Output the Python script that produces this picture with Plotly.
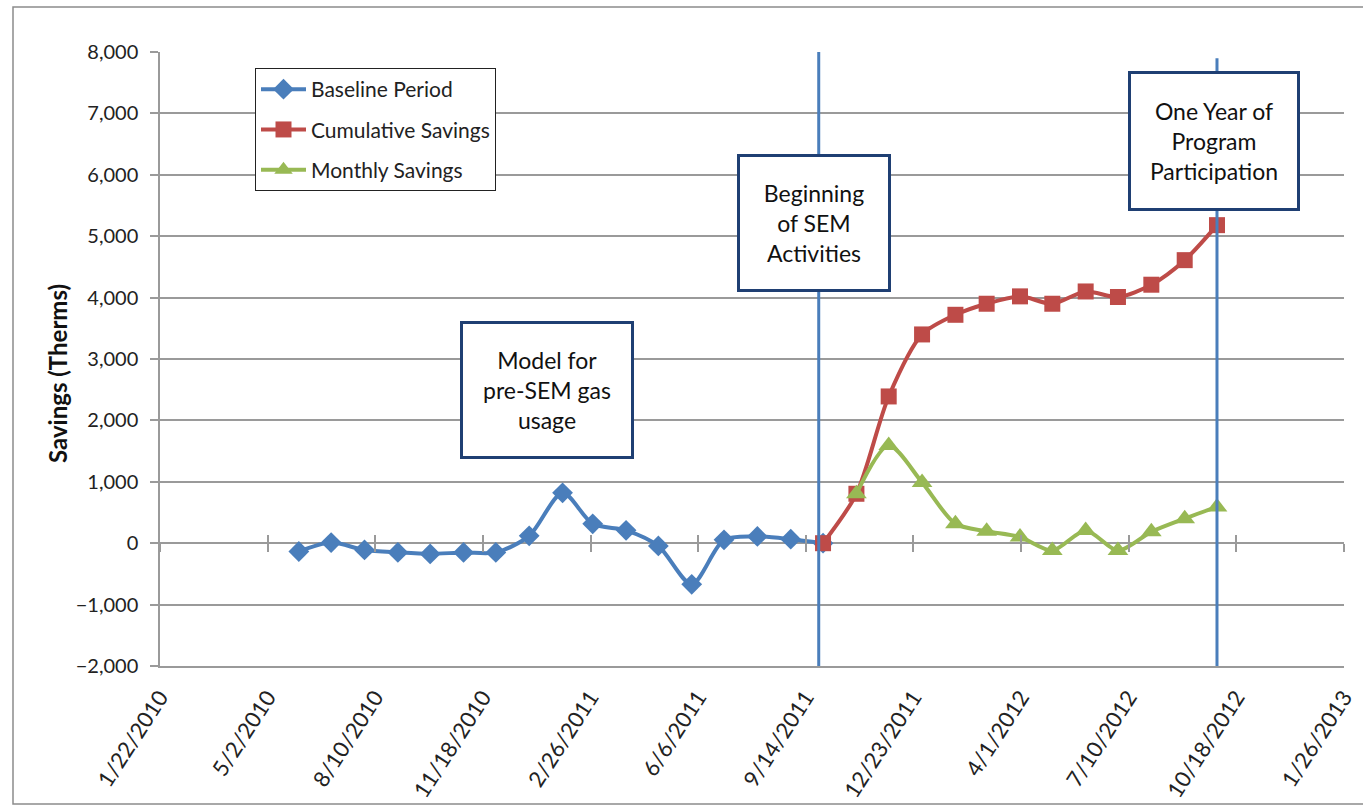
import plotly.graph_objects as go

# ---------------- data ----------------
baseline_dates = ["2010-05-31", "2010-06-30", "2010-07-31", "2010-08-31", "2010-09-30",
                  "2010-10-31", "2010-11-30", "2010-12-31", "2011-01-31", "2011-02-28",
                  "2011-03-31", "2011-04-30", "2011-05-31", "2011-06-30", "2011-07-31",
                  "2011-08-31", "2011-09-30"]
baseline_values = [-135, 10, -110, -150, -175, -150, -150, 120, 820, 315,
                   210, -45, -670, 55, 110, 65, 0]

cum_dates = ["2011-09-30", "2011-10-31", "2011-11-30", "2011-12-31", "2012-01-31",
             "2012-02-29", "2012-03-31", "2012-04-30", "2012-05-31", "2012-06-30",
             "2012-07-31", "2012-08-31", "2012-09-30"]
cum_values = [0, 805, 2390, 3400, 3720, 3900, 4020, 3900, 4100, 4010, 4210, 4610, 5180]

monthly_dates = ["2011-10-31", "2011-11-30", "2011-12-31", "2012-01-31", "2012-02-29",
                 "2012-03-31", "2012-04-30", "2012-05-31", "2012-06-30", "2012-07-31",
                 "2012-08-31", "2012-09-30"]
monthly_values = [805, 1590, 990, 316, 195, 100, -120, 207, -120, 185, 400, 590]

tick_dates = ["2010-01-22", "2010-05-02", "2010-08-10", "2010-11-18", "2011-02-26",
              "2011-06-06", "2011-09-14", "2011-12-23", "2012-04-01", "2012-07-10",
              "2012-10-18", "2013-01-26"]
tick_labels = ["1/22/2010", "5/2/2010", "8/10/2010", "11/18/2010", "2/26/2011",
               "6/6/2011", "9/14/2011", "12/23/2011", "4/1/2012", "7/10/2012",
               "10/18/2012", "1/26/2013"]

y_ticks = [-2000, -1000, 0, 1000, 2000, 3000, 4000, 5000, 6000, 7000, 8000]

event_dates = ["2011-09-26", "2012-09-30"]
event_tops = [8000, 7900]

box_texts = ["Model for<br>pre-SEM gas<br>usage",
             "Beginning<br>of SEM<br>Activities",
             "One Year of<br>Program<br>Participation"]
box_x = ["2011-01-17", "2011-09-22", "2012-09-27"]
box_y = [2500, 5210, 6550]
box_w = [171, 151, 169]
box_h = [135, 135, 137]

y_title = "Savings (Therms)"

# ---------------- style ----------------
FONT = "Lato, 'Open Sans', sans-serif"
BLUE = "#4A7EBB"
RED = "#BE4B48"
GREEN = "#98B954"
GRID = "#9A9A9A"
NAVY = "#1F3F73"

W, H = 1363, 805
L, R, T, B = 160, 19, 52, 139
PW, PH = W - L - R, H - T - B


def px_x(p):
    return (p - L) / PW


def px_y(p):
    return 1 - (p - T) / PH


fig = go.Figure()

fig.add_trace(go.Scatter(
    x=baseline_dates, y=baseline_values, name="Baseline Period",
    mode="lines+markers", legendgroup="a",
    line=dict(color=BLUE, width=4, shape="spline", smoothing=0.8),
    marker=dict(symbol="diamond", size=16, color=BLUE),
))
fig.add_trace(go.Scatter(
    x=cum_dates, y=cum_values, name="Cumulative Savings",
    mode="lines+markers", legendgroup="b",
    line=dict(color=RED, width=4, shape="spline", smoothing=0.8),
    marker=dict(symbol="square", size=16, color=RED),
))
fig.add_trace(go.Scatter(
    x=monthly_dates, y=monthly_values, name="Monthly Savings",
    mode="lines+markers", legendgroup="c",
    line=dict(color=GREEN, width=4, shape="spline", smoothing=0.8),
    marker=dict(symbol="triangle-up", size=18, color=GREEN),
))

# invisible helpers so the zero-line tick axes are created
for ax in ("x2", "x3"):
    fig.add_trace(go.Scatter(
        x=tick_dates, y=[0] * len(tick_dates), xaxis=ax, yaxis="y",
        mode="markers", marker=dict(opacity=0), showlegend=False, hoverinfo="skip",
    ))

# event lines
for d, top in zip(event_dates, event_tops):
    fig.add_shape(type="line", xref="x", yref="y", x0=d, x1=d, y0=-2000, y1=top,
                  line=dict(color=BLUE, width=3), layer="above")

# annotation boxes
for txt, bx, by, bw, bh in zip(box_texts, box_x, box_y, box_w, box_h):
    fig.add_annotation(
        x=bx, y=by, xref="x", yref="y", text=txt, showarrow=False,
        font=dict(family=FONT, size=23, color="#111111"),
        bgcolor="white", bordercolor=NAVY, borderwidth=3, borderpad=0,
        width=bw - 3, height=bh - 3, align="center", valign="middle",
    )

# y-axis title
fig.add_annotation(
    x=px_x(57), y=px_y(374), xref="paper", yref="paper", text="<b>" + y_title + "</b>",
    textangle=-90, showarrow=False, xanchor="center", yanchor="middle",
    font=dict(family=FONT, size=24, color="#111111"),
)

# outer border
fig.add_shape(type="rect", xref="paper", yref="paper",
              x0=px_x(13), x1=px_x(1375), y0=px_y(804), y1=px_y(7),
              line=dict(color="#8C8C8C", width=1.5), layer="below")

xrange = ["2010-01-22", "2013-01-26"]
zero_pos = (0 - y_ticks[0]) / (y_ticks[-1] - y_ticks[0])

fig.update_layout(
    width=W, height=H,
    margin=dict(l=L, r=R, t=T, b=B, autoexpand=False),
    paper_bgcolor="white", plot_bgcolor="white",
    font=dict(family=FONT, size=20, color="#222222"),
    showlegend=True,
    legend=dict(
        x=px_x(255), y=px_y(68), xanchor="left", yanchor="top",
        bgcolor="white", bordercolor="#222222", borderwidth=1,
        font=dict(family=FONT, size=21, color="#222222"),
        tracegroupgap=10, itemwidth=45, traceorder="grouped",
    ),
    xaxis=dict(
        type="date", range=xrange, tickmode="array", tickvals=tick_dates,
        ticktext=tick_labels, tickangle=-57, ticks="", showgrid=False,
        showline=True, linecolor=GRID, linewidth=1.5, zeroline=False,
        tickfont=dict(family=FONT, size=22, color="#222222"),
        ticklabelstandoff=8,
    ),
    xaxis2=dict(
        type="date", range=xrange, overlaying="x", anchor="free", position=zero_pos,
        tickmode="array", tickvals=tick_dates, showticklabels=False,
        ticks="outside", ticklen=8, tickwidth=1.5, tickcolor=GRID,
        showgrid=False, showline=False, zeroline=False,
    ),
    xaxis3=dict(
        type="date", range=xrange, overlaying="x", anchor="free", position=zero_pos,
        tickmode="array", tickvals=tick_dates, showticklabels=False,
        ticks="inside", ticklen=8, tickwidth=1.5, tickcolor=GRID,
        showgrid=False, showline=False, zeroline=False,
    ),
    yaxis=dict(
        range=[y_ticks[0], y_ticks[-1]], tickmode="array", tickvals=y_ticks,
        tickformat=",", showgrid=True, gridcolor=GRID, gridwidth=1.5,
        zeroline=False, showline=True, linecolor=GRID, linewidth=1.5,
        ticks="outside", ticklen=8, tickwidth=1.5, tickcolor=GRID,
        tickfont=dict(family=FONT, size=20, color="#222222"),
        ticklabelstandoff=8,
    ),
)

fig.write_html("out.html")
